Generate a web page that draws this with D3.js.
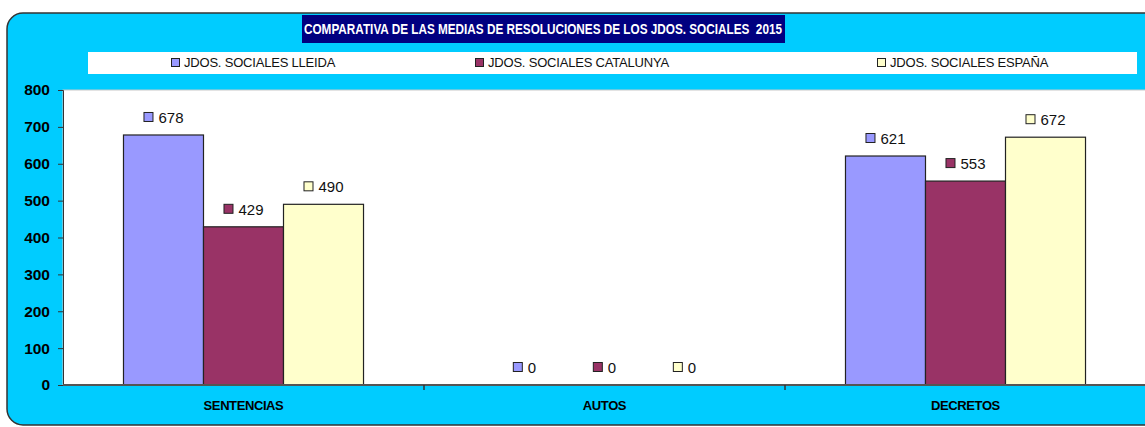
<!DOCTYPE html>
<html>
<head>
<meta charset="utf-8">
<script src="https://d3js.org/d3.v7.min.js"></script>
<style>
  html, body { margin:0; padding:0; background:#fff; }
  svg { display:block; font-family:"Liberation Sans", Arial, sans-serif; }
</style>
</head>
<body>
<svg id="chart" width="1145" height="427"></svg>
<script>
// datos
const categories=["SENTENCIAS","AUTOS","DECRETOS"];
const seriesNames=["JDOS. SOCIALES LLEIDA","JDOS. SOCIALES CATALUNYA","JDOS. SOCIALES ESPAÑA"];
const lleida=[678,0,621];
const catalunya=[429,0,553];
const espana=[490,0,672];
const yTicks=[0,100,200,300,400,500,600,700,800];
const titleText="COMPARATIVA DE LAS MEDIAS DE RESOLUCIONES DE LOS JDOS. SOCIALES  2015";

const colors=["#9999FF","#993366","#FFFFCC"];
const allSeries=[lleida,catalunya,espana];

const svg=d3.select("#chart");

// marco azul
svg.append("rect")
    .attr("x",7).attr("y",13)
    .attr("width",1170).attr("height",412)
    .attr("rx",16).attr("ry",16)
    .attr("fill","#00CCFF")
    .attr("stroke","#333").attr("stroke-width",1.5);

// titulo
svg.append("rect")
    .attr("x",302).attr("y",15)
    .attr("width",483).attr("height",28)
    .attr("fill","#000080");
svg.append("text")
    .attr("x",304).attr("y",34)
    .attr("font-size",14).attr("font-weight","bold")
    .attr("fill","white")
    .attr("textLength",478).attr("lengthAdjust","spacingAndGlyphs")
    .attr("xml:space","preserve")
    .text(titleText);

// leyenda
svg.append("rect")
    .attr("x",88).attr("y",52)
    .attr("width",1049).attr("height",22)
    .attr("fill","white");
const legendX=[171,475,877];
seriesNames.forEach((name,i)=>{
    const g=svg.append("g").attr("transform",`translate(${legendX[i]},0)`);
    g.append("rect")
        .attr("x",0.5).attr("y",58.5)
        .attr("width",8).attr("height",8)
        .attr("fill",colors[i]).attr("stroke","#222").attr("stroke-width",1);
    g.append("text")
        .attr("x",13).attr("y",67)
        .attr("font-size",13).attr("fill","#111")
        .attr("letter-spacing",-0.2)
        .text(name);
});

// escalas
const x0=d3.scaleBand().domain(categories).range([63,1146]).paddingInner(0).paddingOuter(0);
const x1=d3.scaleBand().domain(seriesNames).range([0,x0.bandwidth()]).paddingInner(0).paddingOuter(0.756);
const y=d3.scaleLinear().domain([0,800]).range([385,90]);

// area del grafico
svg.append("rect")
    .attr("x",63).attr("y",90)
    .attr("width",1120).attr("height",295)
    .attr("fill","white")
    .attr("stroke","#c8c8c8").attr("stroke-width",1);

// eje Y
const yAxis=svg.append("g")
    .attr("transform","translate(63,0)")
    .call(d3.axisLeft(y).tickValues(yTicks).tickSize(5).tickPadding(8).tickFormat(d3.format("d")));
yAxis.select(".domain").attr("stroke","#333");
yAxis.selectAll(".tick line").attr("stroke","#333");
yAxis.selectAll("text")
    .attr("font-size",15.5).attr("font-weight","bold")
    .attr("font-family","Liberation Sans, Arial, sans-serif")
    .attr("fill","#000");

// barras
categories.forEach((cat,ci)=>{
    const g=svg.append("g").attr("transform",`translate(${x0(cat)},0)`);
    seriesNames.forEach((name,si)=>{
        const v=allSeries[si][ci];
        if (v>0) {
            g.append("rect")
                .attr("x",x1(name)).attr("y",y(v))
                .attr("width",x1.bandwidth()).attr("height",y(0)-y(v))
                .attr("fill",colors[si])
                .attr("stroke","#222").attr("stroke-width",1.2);
        }
        // etiqueta con cuadrado
        const lab=g.append("g");
        const t=lab.append("text")
            .attr("x",15).attr("y",y(v)-12)
            .attr("font-size",15).attr("fill","#111")
            .text(v);
        lab.append("rect")
            .attr("x",0.5).attr("y",y(v)-22.5)
            .attr("width",9).attr("height",9)
            .attr("fill",colors[si]).attr("stroke","#222").attr("stroke-width",1);
        const w=15+t.node().getComputedTextLength();
        const cx=x1(name)+x1.bandwidth()/2;
        lab.attr("transform",`translate(${cx-w/2},0)`);
    });
});

// eje X
svg.append("line")
    .attr("x1",63).attr("x2",1145)
    .attr("y1",y(0)).attr("y2",y(0))
    .attr("stroke","#555").attr("stroke-width",2);
categories.forEach(cat=>{
    svg.append("line")
        .attr("x1",x0(cat)+x0.bandwidth()).attr("x2",x0(cat)+x0.bandwidth())
        .attr("y1",y(0)).attr("y2",y(0)+5)
        .attr("stroke","#333").attr("stroke-width",1.5);
    svg.append("text")
        .attr("x",x0(cat)+x0.bandwidth()/2).attr("y",410)
        .attr("text-anchor","middle")
        .attr("font-size",13).attr("font-weight","bold")
        .attr("letter-spacing",-0.4)
        .attr("fill","#000")
        .text(cat);
});
</script>
</body>
</html>
